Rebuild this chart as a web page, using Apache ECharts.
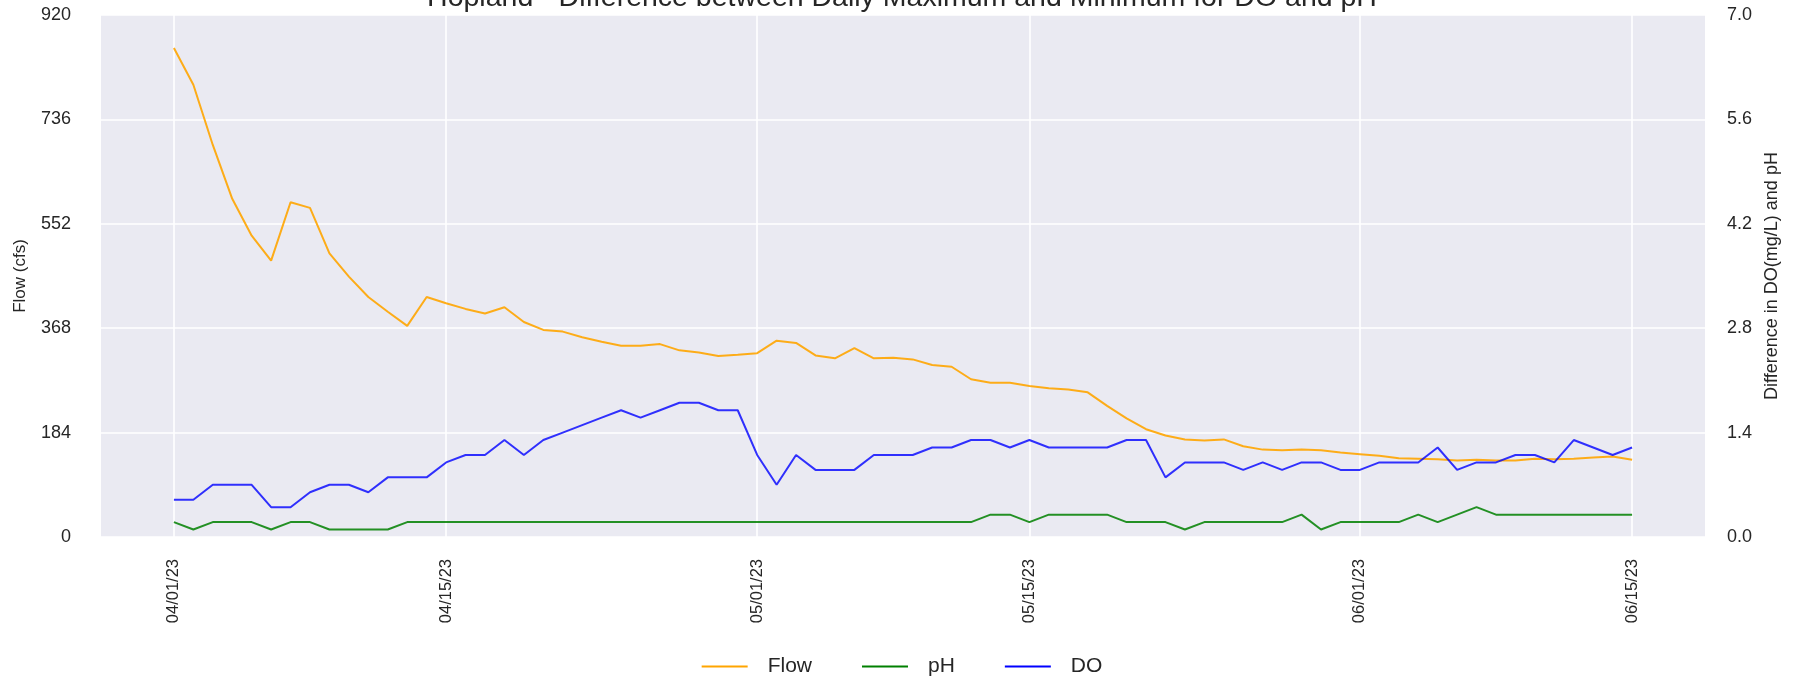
<!DOCTYPE html>
<html>
<head>
<meta charset="utf-8">
<title>Hopland</title>
<script src="https://cdn.jsdelivr.net/npm/echarts@6/dist/echarts.min.js"></script>
<style>
  html, body { margin: 0; padding: 0; background: #fff; }
  #chart { width: 1804px; height: 676px; }
</style>
</head>
<body>
<div id="chart"></div>
<script>
// one value per day, 04/01/23 .. 06/15/23
var flow = [862, 797, 691, 596, 531, 487, 590, 580, 500, 459,
            423, 397, 372, 423, 412, 402, 394, 405, 379, 365,
            362, 352, 344, 337, 337, 340, 329, 325, 319, 321,
            324, 346, 342, 320, 315, 333, 315, 316, 313, 303,
            300, 278, 272, 272, 266, 262, 260, 255, 231, 209,
            190, 179, 172, 170, 172, 160, 154, 153, 154, 153,
            149, 146, 143, 139, 138, 137, 135, 136, 135, 135,
            138, 137, 138, 140, 142, 136];
var ph = [0.2, 0.1, 0.2, 0.2, 0.2, 0.1, 0.2, 0.2, 0.1, 0.1,
          0.1, 0.1, 0.2, 0.2, 0.2, 0.2, 0.2, 0.2, 0.2, 0.2,
          0.2, 0.2, 0.2, 0.2, 0.2, 0.2, 0.2, 0.2, 0.2, 0.2,
          0.2, 0.2, 0.2, 0.2, 0.2, 0.2, 0.2, 0.2, 0.2, 0.2,
          0.2, 0.2, 0.3, 0.3, 0.2, 0.3, 0.3, 0.3, 0.3, 0.2,
          0.2, 0.2, 0.1, 0.2, 0.2, 0.2, 0.2, 0.2, 0.3, 0.1,
          0.2, 0.2, 0.2, 0.2, 0.3, 0.2, 0.3, 0.4, 0.3, 0.3,
          0.3, 0.3, 0.3, 0.3, 0.3, 0.3];
var dox = [0.5, 0.5, 0.7, 0.7, 0.7, 0.4, 0.4, 0.6, 0.7, 0.7,
           0.6, 0.8, 0.8, 0.8, 1.0, 1.1, 1.1, 1.3, 1.1, 1.3,
           1.4, 1.5, 1.6, 1.7, 1.6, 1.7, 1.8, 1.8, 1.7, 1.7,
           1.1, 0.7, 1.1, 0.9, 0.9, 0.9, 1.1, 1.1, 1.1, 1.2,
           1.2, 1.3, 1.3, 1.2, 1.3, 1.2, 1.2, 1.2, 1.2, 1.3,
           1.3, 0.8, 1.0, 1.0, 1.0, 0.9, 1.0, 0.9, 1.0, 1.0,
           0.9, 0.9, 1.0, 1.0, 1.0, 1.2, 0.9, 1.0, 1.0, 1.1,
           1.1, 1.0, 1.3, 1.2, 1.1, 1.2];

// x ticks: day number since 04/01/23 and its label
var tickDays = [0, 14, 30, 44, 61, 75];
var tickLabels = ['04/01/23', '04/15/23', '05/01/23', '05/15/23', '06/01/23', '06/15/23'];

var txt = '#262626';
var font = 'Liberation Sans, Arial, sans-serif';

function pairs(arr) {
  return arr.map(function (v, i) { return [i, v]; });
}

var chart = echarts.init(document.getElementById('chart'));

chart.setOption({
  backgroundColor: '#ffffff',
  animation: false,
  textStyle: { fontFamily: font },
  title: {
    text: 'Hopland - Difference between Daily Maximum and Minimum for DO and pH',
    left: 'center',
    top: -21,
    textStyle: { fontSize: 28.5, fontWeight: 'normal', color: txt, fontFamily: font }
  },
  legend: {
    data: ['Flow', 'pH', 'DO'],
    top: 651,
    left: 'center',
    icon: 'rect',
    itemWidth: 46,
    itemHeight: 2,
    itemGap: 50,
    textStyle: { fontSize: 21, color: txt, padding: [0, 0, 0, 15] }
  },
  grid: {
    left: 101,
    right: 99,
    top: 15,
    bottom: 139,
    show: true,
    backgroundColor: '#EAEAF2',
    borderWidth: 0
  },
  xAxis: {
    type: 'value',
    min: -3.75,
    max: 78.75,
    axisLine: { show: false },
    axisTick: { show: false, customValues: tickDays },
    axisLabel: {
      customValues: tickDays,
      rotate: 90,
      margin: 22,
      fontSize: 16.5,
      color: txt,
      formatter: function (v) {
        var k = tickDays.indexOf(v);
        return k >= 0 ? tickLabels[k] : '';
      }
    },
    splitLine: { show: true, lineStyle: { color: '#ffffff', width: 1.6 } }
  },
  yAxis: [
    {
      type: 'value',
      min: 0,
      max: 920,
      interval: 184,
      name: 'Flow (cfs)',
      nameLocation: 'middle',
      nameGap: 72,
      nameTextStyle: { fontSize: 17, color: txt },
      axisLine: { show: false },
      axisTick: { show: false },
      axisLabel: { fontSize: 18, color: txt, margin: 30 },
      splitLine: { show: true, lineStyle: { color: '#ffffff', width: 1.6 } }
    },
    {
      type: 'value',
      min: 0,
      max: 7,
      interval: 1.4,
      position: 'right',
      name: 'Difference in DO(mg/L) and pH',
      nameLocation: 'middle',
      nameGap: 58,
      nameTextStyle: { fontSize: 18, color: txt },
      axisLine: { show: false },
      axisTick: { show: false },
      axisLabel: {
        fontSize: 18,
        color: txt,
        margin: 22,
        formatter: function (v) { return v.toFixed(1); }
      },
      splitLine: { show: false }
    }
  ],
  series: [
    {
      name: 'Flow',
      type: 'line',
      yAxisIndex: 0,
      data: pairs(flow),
      symbol: 'none',
      color: '#FFA500',
      lineStyle: { color: '#FFA500', width: 2, opacity: 0.9 }
    },
    {
      name: 'pH',
      type: 'line',
      yAxisIndex: 1,
      data: pairs(ph),
      symbol: 'none',
      color: '#008000',
      lineStyle: { color: '#008000', width: 2, opacity: 0.85 }
    },
    {
      name: 'DO',
      type: 'line',
      yAxisIndex: 1,
      data: pairs(dox),
      symbol: 'none',
      color: '#0000FF',
      lineStyle: { color: '#0000FF', width: 2, opacity: 0.8 }
    }
  ]
});
</script>
</body>
</html>
